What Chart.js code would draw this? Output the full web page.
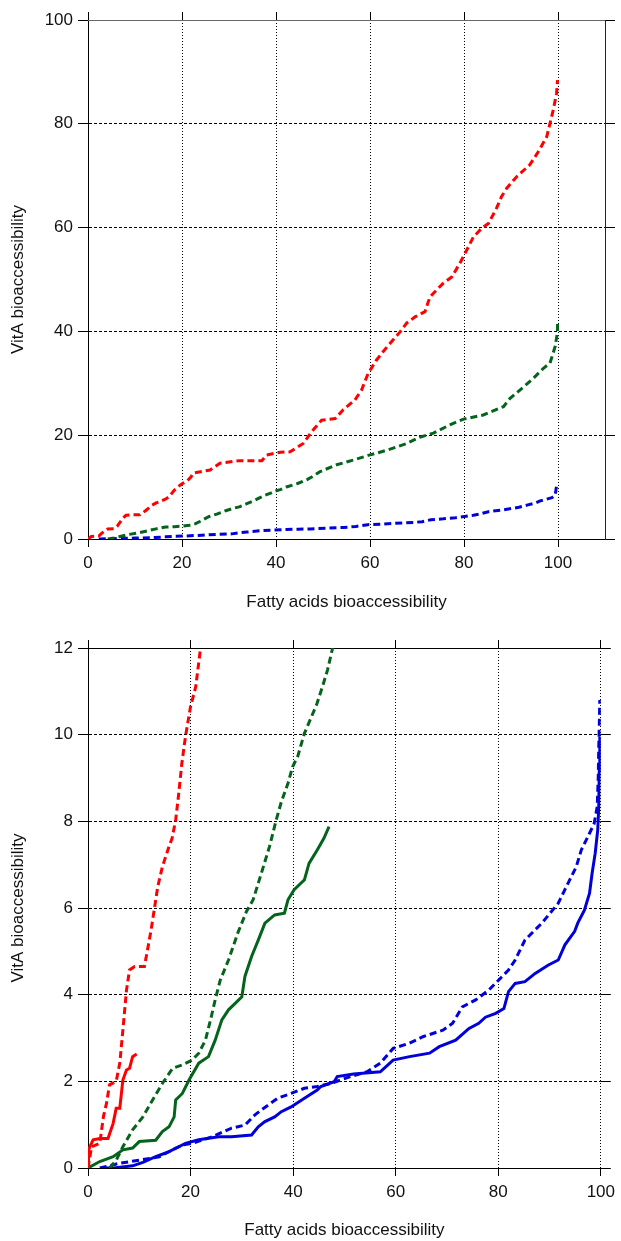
<!DOCTYPE html>
<html>
<head>
<meta charset="utf-8">
<script src="https://cdn.jsdelivr.net/npm/chart.js@4.4.1/dist/chart.umd.min.js"></script>
<style>
  html, body { margin: 0; padding: 0; background: #fff; overflow: hidden; }
  #wrap { position: relative; width: 621px; height: 1241px; }
  canvas { position: absolute; left: 0; }
  #c1 { top: 0; }
  #c2 { top: 628px; }
</style>
</head>
<body>
<div id="wrap">
  <canvas id="c1" width="621" height="620"></canvas>
  <canvas id="c2" width="621" height="620"></canvas>
</div>
<script>
// ---------- tick labels ----------
const xTicks = [0, 20, 40, 60, 80, 100];
const yTicksTop = [0, 20, 40, 60, 80, 100];
const yTicksBottom = [0, 2, 4, 6, 8, 10, 12];
const xTitle = 'Fatty acids bioaccessibility';
const yTitle = 'VitA bioaccessibility';

// ---------- series (dashed) ----------
const redDashX = [0, 0.7, 2.3, 3.0, 3.6, 4.2, 5.5, 6.2, 6.8, 7.5, 8.1, 9.1, 11, 11.6, 12.3, 12.9, 13.6, 14.5, 15.8, 16.4, 17.1, 17.7, 18.3, 19.0, 20.0, 21.0, 21.9,
  22.4, 26, 28.1, 32.3, 37, 38, 40.9, 43, 45.8, 47.6, 49.7, 52.6, 54.3, 56.8, 58.2, 59.6, 61.4, 63.6, 66.4, 67.8, 69.6, 71.7, 72.4, 72.8, 75.6, 77.4, 79.1, 80.2, 82, 83.8, 85.2, 86.9, 88, 89.1, 91.2, 94, 95.8, 97.6, 98.3, 99, 99.7, 99.9];
const redDashY = [0, 0.49, 0.57, 1.18, 1.49, 1.92, 2.0, 2.42, 3.18, 4.1, 4.57, 4.65, 4.65, 5.03, 5.49, 5.95, 6.49, 6.95, 7.42, 7.61, 8.03, 8.65, 9.34, 9.95, 10.65, 11.1, 11.95,
  12.7, 13.3, 14.6, 15.1, 15.1, 16.2, 16.7, 16.8, 18.4, 20.7, 22.9, 23.2, 24.9, 26.8, 28.7, 31.9, 34.5, 37, 39.9, 41.6, 42.8, 43.8, 45.7, 46.7, 49.3, 50.5, 53.1, 55, 58.2, 59.9, 60.8, 63.7, 66, 67.6, 69.8, 72.1, 74.6, 77.5, 80.1, 82.7, 85.9, 88.4];

const greenDashX = [4.2, 5.5, 6.8, 8.7, 10.7, 12.6, 14.5, 16.5, 18.4, 20.3, 21.6, 22.9, 23.9, 24.8, 25.8, 27.4, 29.3, 30.9, 32.2, 33.8, 35.4, 36.7, 37.7, 39.0, 39.9, 40.9, 42.2, 43.6, 44.6, 45.7, 46.7, 47.6,
  49.4, 52.9, 56.4, 60, 63.6, 67.8, 70.6, 73.5, 77, 79.9, 84.1, 88.4, 89.8, 91.9, 94.8, 96.9, 98.3, 99.4, 99.9, 99.9];
const greenDashY = [0, 0.18, 0.49, 0.88, 1.18, 1.57, 1.95, 2.3, 2.38, 2.49, 2.65, 2.95, 3.42, 3.88, 4.34, 4.8, 5.45, 5.92, 6.19, 6.8, 7.42, 8.03, 8.45, 8.88, 9.26, 9.5, 10.03, 10.42, 10.7, 11.1, 11.49, 11.95,
  13, 14.3, 15.2, 16.2, 17.1, 18.4, 19.6, 20.4, 22, 23.1, 23.9, 25.5, 27.1, 28.7, 31, 32.9, 33.9, 37.1, 39.9, 42.2];

const blueDashX = [2.3, 6.2, 10.0, 13.9, 16.5, 18.4, 20.3, 24.2, 28.0, 30.6, 32.5, 33.8, 37.0, 39.6, 42.2, 44.7, 47.3, 51.2, 54.4, 57.0, 59.5, 62.7, 65.3, 69.2, 71.1, 73.0, 75.6, 78.2, 80.1, 82.0, 83.3, 85.2, 88.5, 91.7, 93.6, 95.2, 96.2, 97.5, 98.7, 99.3, 99.5, 99.6, 99.7, 99.8];
const blueDashY = [0, 0.11, 0.18, 0.26, 0.42, 0.53, 0.57, 0.72, 0.92, 0.99, 1.22, 1.34, 1.61, 1.72, 1.84, 1.88, 1.95, 2.11, 2.22, 2.42, 2.76, 2.88, 3.03, 3.18, 3.34, 3.72, 3.88, 4.11, 4.34, 4.57, 4.8, 5.26, 5.65, 6.11, 6.57, 6.95, 7.34, 7.65, 7.95, 8.34, 9.03, 9.72, 10.18, 10.8];

// ---------- series (solid, bottom panel only) ----------
const redSolidX = [0, 0.1, 1.0, 2.3, 3.9, 4.9, 5.5, 6.2, 6.8, 7.5, 8.1, 8.7, 9.5];
const redSolidY = [0, 0.42, 0.65, 0.68, 0.68, 1.03, 1.38, 1.38, 2.03, 2.26, 2.3, 2.57, 2.63];

const greenSolidX = [0, 2.3, 4.9, 6.8, 8.7, 10.0, 13.2, 14.5, 15.8, 16.8, 17.1, 18.4, 19.7, 21.6, 23.5, 24.8, 26.1, 27.4, 28.7, 30.0, 30.6, 31.9, 33.2, 34.5, 36.4, 38.3, 39.0, 40.2, 41.5, 42.2, 43.1, 44.7, 46.0, 47.0];
const greenSolidY = [0, 0.15, 0.26, 0.42, 0.46, 0.61, 0.64, 0.84, 0.95, 1.18, 1.57, 1.72, 2.03, 2.42, 2.57, 2.95, 3.42, 3.65, 3.8, 3.95, 4.42, 4.88, 5.26, 5.65, 5.84, 5.88, 6.19, 6.42, 6.57, 6.65, 7.03, 7.34, 7.61, 7.88];

const blueSolidX = [3, 5, 8.7, 10.7, 13.2, 15.8, 17.7, 19.0, 21.6, 25.5, 28, 31.9, 33.2, 34.5, 36.4, 37.7, 39.6, 42.2, 44.7, 45.4, 48.0, 48.6, 51.8, 57.0, 59.5, 62.7, 66.6, 68.5, 71.7, 74.3, 76.2, 77.5, 79.5, 81.1, 82.0, 83.3, 85.2, 87.2, 89.7, 91.7, 93.0, 94.9, 95.5, 96.8, 97.8, 98.3, 98.9, 99.4, 99.6, 99.7, 99.8];
const blueSolidY = [0, 0, 0.05, 0.13, 0.26, 0.38, 0.49, 0.57, 0.65, 0.72, 0.72, 0.76, 0.95, 1.07, 1.18, 1.3, 1.41, 1.61, 1.8, 1.88, 1.99, 2.11, 2.17, 2.22, 2.49, 2.57, 2.65, 2.8, 2.95, 3.22, 3.34, 3.48, 3.57, 3.68, 4.07, 4.26, 4.3, 4.49, 4.68, 4.8, 5.15, 5.46, 5.65, 5.95, 6.34, 6.8, 7.26, 7.8, 8.34, 9.18, 9.95];

// ---------- styling ----------
const RED = '#ff0000', GREEN = '#05641c', BLUE = '#0000dc';
const FONT = { family: '"Liberation Sans", Arial, sans-serif', size: 17 };
const TXT = '#111';

function pts(xs, ys) { return xs.map((x, i) => ({ x: x, y: ys[i] })); }
function ds(xs, ys, color, dashed) {
  return {
    data: pts(xs, ys), borderColor: color, backgroundColor: color,
    borderWidth: 3, borderDash: dashed ? [7, 4] : [], pointRadius: 0,
    tension: 0, fill: false, borderCapStyle: 'butt', borderJoinStyle: 'miter'
  };
}
function setTicks(arr) { return s => { s.ticks = arr.map(v => ({ value: v })); }; }

function makeChart(id, o) {
  new Chart(document.getElementById(id), {
    type: 'line',
    data: { datasets: o.datasets },
    options: {
      responsive: false, animation: false, devicePixelRatio: 1,
      layout: { padding: 0 },
      plugins: { legend: { display: false }, tooltip: { enabled: false } },
      scales: {
        x: {
          type: 'linear', position: 'bottom', min: 0, max: o.xMax,
          afterBuildTicks: setTicks(xTicks),
          ticks: { font: FONT, color: TXT, padding: 6, maxRotation: 0, autoSkip: false },
          grid: { color: '#000', lineWidth: 1, tickLength: 8, tickColor: '#000', drawTicks: true },
          border: { display: true, color: '#000', width: 1, dash: [1, 2] },
          title: { display: true, text: xTitle, font: FONT, color: TXT, padding: { top: 0, bottom: 7 } },
          afterFit: s => { s.height = o.bottomH; }
        },
        y: {
          type: 'linear', position: 'left', min: 0, max: o.yMax,
          afterBuildTicks: setTicks(o.yTicks),
          ticks: { font: FONT, color: TXT, padding: 5, autoSkip: false },
          grid: { color: '#000', lineWidth: 1, tickLength: 10, tickColor: '#000', drawTicks: true },
          border: { display: true, color: '#000', width: 1, dash: [3, 2] },
          title: { display: true, text: yTitle, font: FONT, color: TXT, padding: { top: 8, bottom: 0 } },
          afterFit: s => { s.width = 88; }
        },
        x2: {
          type: 'linear', position: 'top', min: 0, max: o.xMax,
          afterBuildTicks: setTicks(xTicks),
          ticks: { display: false },
          grid: { drawOnChartArea: false, tickLength: 8, tickColor: '#000', drawTicks: true },
          border: { display: true, color: o.topColor, width: 1 },
          afterFit: s => { s.height = 20; }
        },
        y2: {
          type: 'linear', position: 'right', min: 0, max: o.yMax,
          afterBuildTicks: setTicks(o.yTicks),
          ticks: { display: false },
          grid: { drawOnChartArea: false, tickLength: 10, tickColor: '#000', drawTicks: true },
          border: { display: o.rightBorder, color: '#222', width: 1 },
          afterFit: s => { s.width = o.rightW; }
        }
      }
    }
  });
}

makeChart('c1', {
  xMax: 110, yMax: 100, yTicks: yTicksTop, bottomH: 81, rightW: 16, topColor: '#666', rightBorder: true,
  datasets: [
    ds(redDashX, redDashY, RED, true),
    ds(greenDashX, greenDashY, GREEN, true),
    ds(blueDashX, blueDashY, BLUE, true)
  ]
});

makeChart('c2', {
  xMax: 100, yMax: 12, yTicks: yTicksBottom, bottomH: 80, rightW: 15, topColor: '#000', rightBorder: false,
  datasets: [
    ds(redDashX, redDashY, RED, true),
    ds(redSolidX, redSolidY, RED, false),
    ds(greenDashX, greenDashY, GREEN, true),
    ds(greenSolidX, greenSolidY, GREEN, false),
    ds(blueDashX, blueDashY, BLUE, true),
    ds(blueSolidX, blueSolidY, BLUE, false)
  ]
});
</script>
</body>
</html>
